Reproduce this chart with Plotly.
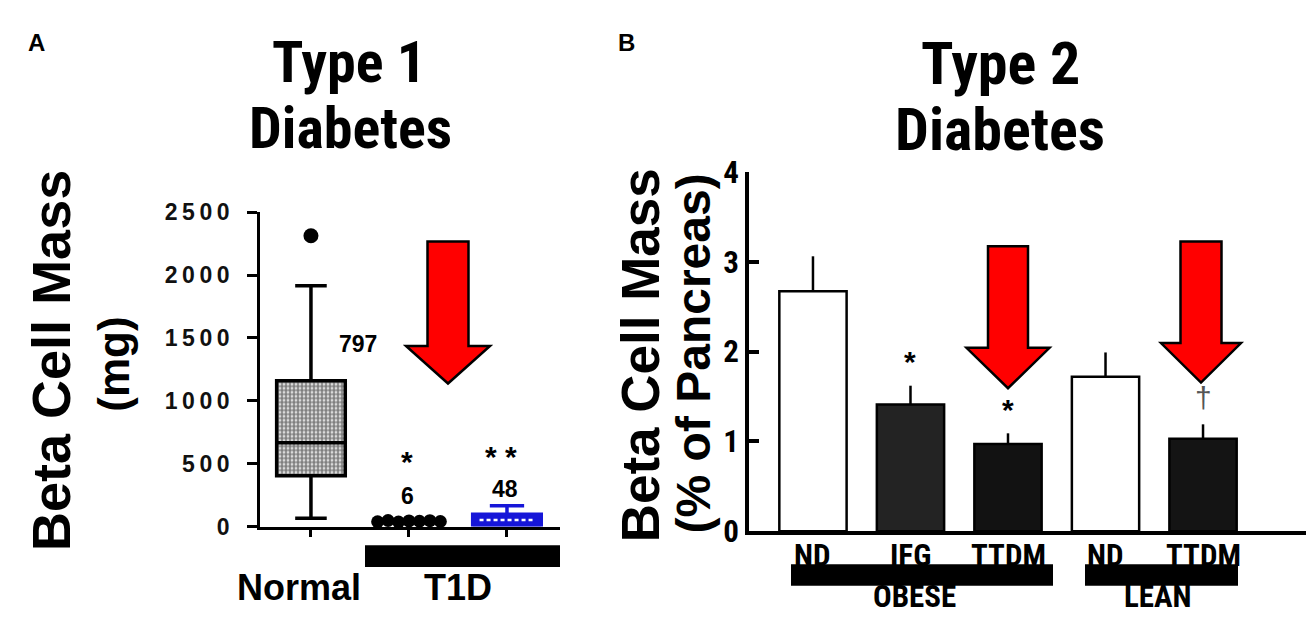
import plotly.graph_objects as go

W, H = 1314, 626

# ---------------- data ----------------
# Panel A (Type 1): box-plot statistics (mg)
a_groups = ["Normal", "T1D", "T1D"]
normal_stats = dict(q1=404, median=666, q3=1160, lowerfence=67, upperfence=1916)
normal_outlier = [2313]
t1d_dots = [38, 48, 36, 45, 42, 47, 40]
t1d_box_stats = dict(q1=0, median=52, q3=97, lowerfence=0, upperfence=165)
a_means = ["797", "6", "48"]
a_ticks = [0, 500, 1000, 1500, 2000, 2500]

# Panel B (Type 2): bar means and SEM (% of pancreas)
b_labels = ["ND", "IFG", "TTDM", "ND", "TTDM"]
b_values = [2.67, 1.41, 0.97, 1.72, 1.03]
b_errors = [0.39, 0.21, 0.12, 0.27, 0.16]
b_colors = ["#ffffff", "#232323", "#121212", "#ffffff", "#141414"]
b_marks = ["", "*", "*", "", "†"]
b_ticks = [0, 1, 2, 3, 4]


def px(x):
    return x / W


def py(y):
    return 1 - y / H


BOLD = "Liberation Sans, Arial, sans-serif"
NARROW = "Roboto Condensed, Open Sans Condensed, Liberation Sans, sans-serif"

fig = go.Figure()

# ---------- Panel A ----------
box_w = 0.70
fig.add_trace(go.Bar(
    x=[0], y=[normal_stats["q3"] - normal_stats["q1"]], base=[normal_stats["q1"]],
    width=box_w, xaxis="x", yaxis="y",
    marker=dict(color="white", line=dict(width=0),
                pattern=dict(shape=".", size=4, solidity=0.72, fgcolor="black", bgcolor="white")),
    showlegend=False, hoverinfo="skip"))
fig.add_trace(go.Box(
    x=[0], q1=[normal_stats["q1"]], median=[normal_stats["median"]], q3=[normal_stats["q3"]],
    lowerfence=[normal_stats["lowerfence"]], upperfence=[normal_stats["upperfence"]],
    width=box_w, whiskerwidth=0.46, fillcolor="rgba(0,0,0,0)",
    line=dict(color="black", width=3.5), xaxis="x", yaxis="y", showlegend=False,
    boxpoints=False))
fig.add_trace(go.Scatter(
    x=[0] * len(normal_outlier), y=normal_outlier, mode="markers",
    marker=dict(color="black", size=15), xaxis="x", yaxis="y", showlegend=False,
    cliponaxis=False))
n = len(t1d_dots)
dot_offsets = [(-0.32 + 0.64 * i / (n - 1)) for i in range(n)]
fig.add_trace(go.Scatter(
    x=[1 + o for o in dot_offsets], y=t1d_dots, mode="markers",
    marker=dict(color="black", size=13), xaxis="x", yaxis="y", showlegend=False,
    cliponaxis=False))
fig.add_trace(go.Box(
    x=[2], q1=[t1d_box_stats["q1"]], median=[t1d_box_stats["median"]], q3=[t1d_box_stats["q3"]],
    lowerfence=[t1d_box_stats["lowerfence"]], upperfence=[t1d_box_stats["upperfence"]],
    width=box_w, whiskerwidth=0.5, fillcolor="#1616d8",
    line=dict(color="#1616d8", width=3.5), xaxis="x", yaxis="y", showlegend=False,
    boxpoints=False))
fig.add_trace(go.Scatter(
    x=[2 - box_w * 0.4, 2 + box_w * 0.4], y=[t1d_box_stats["median"]] * 2, mode="lines",
    line=dict(color="white", width=2.5, dash="4px,3px"), xaxis="x", yaxis="y",
    showlegend=False))

# ---------- Panel B ----------
fig.add_trace(go.Bar(
    x=list(range(len(b_values))), y=b_values, width=0.69, xaxis="x2", yaxis="y2",
    marker=dict(color=b_colors, line=dict(color="black", width=2.5)),
    error_y=dict(type="data", array=b_errors, arrayminus=[0] * len(b_errors),
                 symmetric=False, width=0, thickness=2.5, color="black"),
    showlegend=False))

layout = dict(
    width=W, height=H, autosize=False,
    margin=dict(l=0, r=0, t=0, b=0),
    paper_bgcolor="white", plot_bgcolor="white",
    barmode="overlay", boxmode="overlay",
    xaxis=dict(domain=[px(252), px(552)], range=[-0.52, 2.541], anchor="y",
               showline=True, linecolor="black", linewidth=2.5, ticks="outside",
               tickvals=[0, 1, 2], ticklen=8, tickwidth=2.5, tickcolor="black",
               showticklabels=False, showgrid=False, zeroline=False),
    yaxis=dict(domain=[py(532), py(198)], range=[0, 2500], anchor="x",
               showline=True, linecolor="black", linewidth=2.5, ticks="outside",
               ticklen=10, tickwidth=2.5, tickcolor="black",
               tickvals=a_ticks, ticktext=["\u2009".join(str(t)) for t in a_ticks],
               tickfont=dict(family=BOLD, size=23, color="#111", weight="bold"),
               ticklabelstandoff=13, showgrid=False, zeroline=False),
    xaxis2=dict(domain=[px(741), 1.0], range=[-0.656, 5.22], anchor="y2",
                showline=True, linecolor="black", linewidth=4, ticks="",
                showticklabels=False, showgrid=False, zeroline=False),
    yaxis2=dict(domain=[py(537), py(155)], range=[0, 4], anchor="x2",
                showline=True, linecolor="black", linewidth=4, ticks="inside",
                ticklen=10, tickwidth=3.5, tickcolor="black", tickvals=b_ticks,
                tickfont=dict(family=NARROW, size=31, color="black", weight="bold"),
                ticklabelstandoff=0, showgrid=False, zeroline=False),
)

shapes = []


def arrow(cx, shaft_hw, head_hw, top, neck, tip):
    path = (f"M {px(cx - shaft_hw)} {py(top)} L {px(cx + shaft_hw)} {py(top)} "
            f"L {px(cx + shaft_hw)} {py(neck)} L {px(cx + head_hw)} {py(neck)} "
            f"L {px(cx)} {py(tip)} L {px(cx - head_hw)} {py(neck)} "
            f"L {px(cx - shaft_hw)} {py(neck)} Z")
    return dict(type="path", xref="paper", yref="paper", path=path,
                fillcolor="#ff0000", line=dict(color="black", width=2.5), layer="above")


shapes.append(arrow(440, 20.5, 42, 229, 340, 380))
shapes.append(arrow(1000, 20, 41.5, 234, 342, 385))
shapes.append(arrow(1193, 20.5, 40, 229, 337, 379))

# group bars under category labels
for x0, x1, y0, y1 in [(357, 552, 552, 575), (783, 1045, 572, 595), (1077, 1230, 572, 595)]:
    shapes.append(dict(type="rect", xref="paper", yref="paper",
                       x0=px(x0), x1=px(x1), y0=py(y1), y1=py(y0),
                       fillcolor="black", line=dict(width=0), layer="above"))

ann = []


def text(x, y, t, size, family=BOLD, angle=0, color="black", xref="paper", weight="bold"):
    ann.append(dict(x=x if xref != "paper" else px(x), y=py(y), xref=xref, yref="paper",
                    text=t, showarrow=False, textangle=angle, xanchor="center",
                    yanchor="middle",
                    font=dict(family=family, size=size, color=color, weight=weight)))


# panel letters
text(28, 18, "A", 24)
text(618, 18, "B", 24)
# titles
text(341, 38, "Type 1", 58, NARROW)
text(342, 108, "Diabetes", 58, NARROW)
text(992, 40, "Type 2", 60, NARROW)
text(992, 110, "Diabetes", 60, NARROW)
# y titles
text(43, 356, "Beta Cell Mass", 54, angle=-90)
text(106, 360, "(mg)", 44, angle=-90)
text(632, 350, "Beta Cell Mass", 53, angle=-90)
text(685, 348, "(% of Pancreas)", 48, angle=-90)
# panel A annotations
text(350, 338, a_means[0], 23)
text(399, 463, "*", 30)
text(399, 500, a_means[1], 23)
text(493, 458, "* *", 30)
text(497, 492, a_means[2], 23)
# panel A category labels
text(291, 597, a_groups[0], 36)
text(450, 597, a_groups[1], 36)
# panel B category labels
for i, lab in enumerate(b_labels):
    text(i, 563, lab, 31, NARROW, xref="x2")
    if b_marks[i]:
        text(i, 0, b_marks[i], 30, xref="x2")
        ann[-1]["y"] = b_values[i] + b_errors[i] + (0.27 if b_marks[i] == "*" else 0.3)
        ann[-1]["yref"] = "y2"
        if b_marks[i] == "†":
            ann[-1]["font"]["color"] = "#555"
            ann[-1]["font"]["weight"] = "normal"
text(906, 606, "OBESE", 31, NARROW)
text(1150, 606, "LEAN", 31, NARROW)

layout["shapes"] = shapes
layout["annotations"] = ann
fig.update_layout(**layout)
fig.write_html("out.html")
